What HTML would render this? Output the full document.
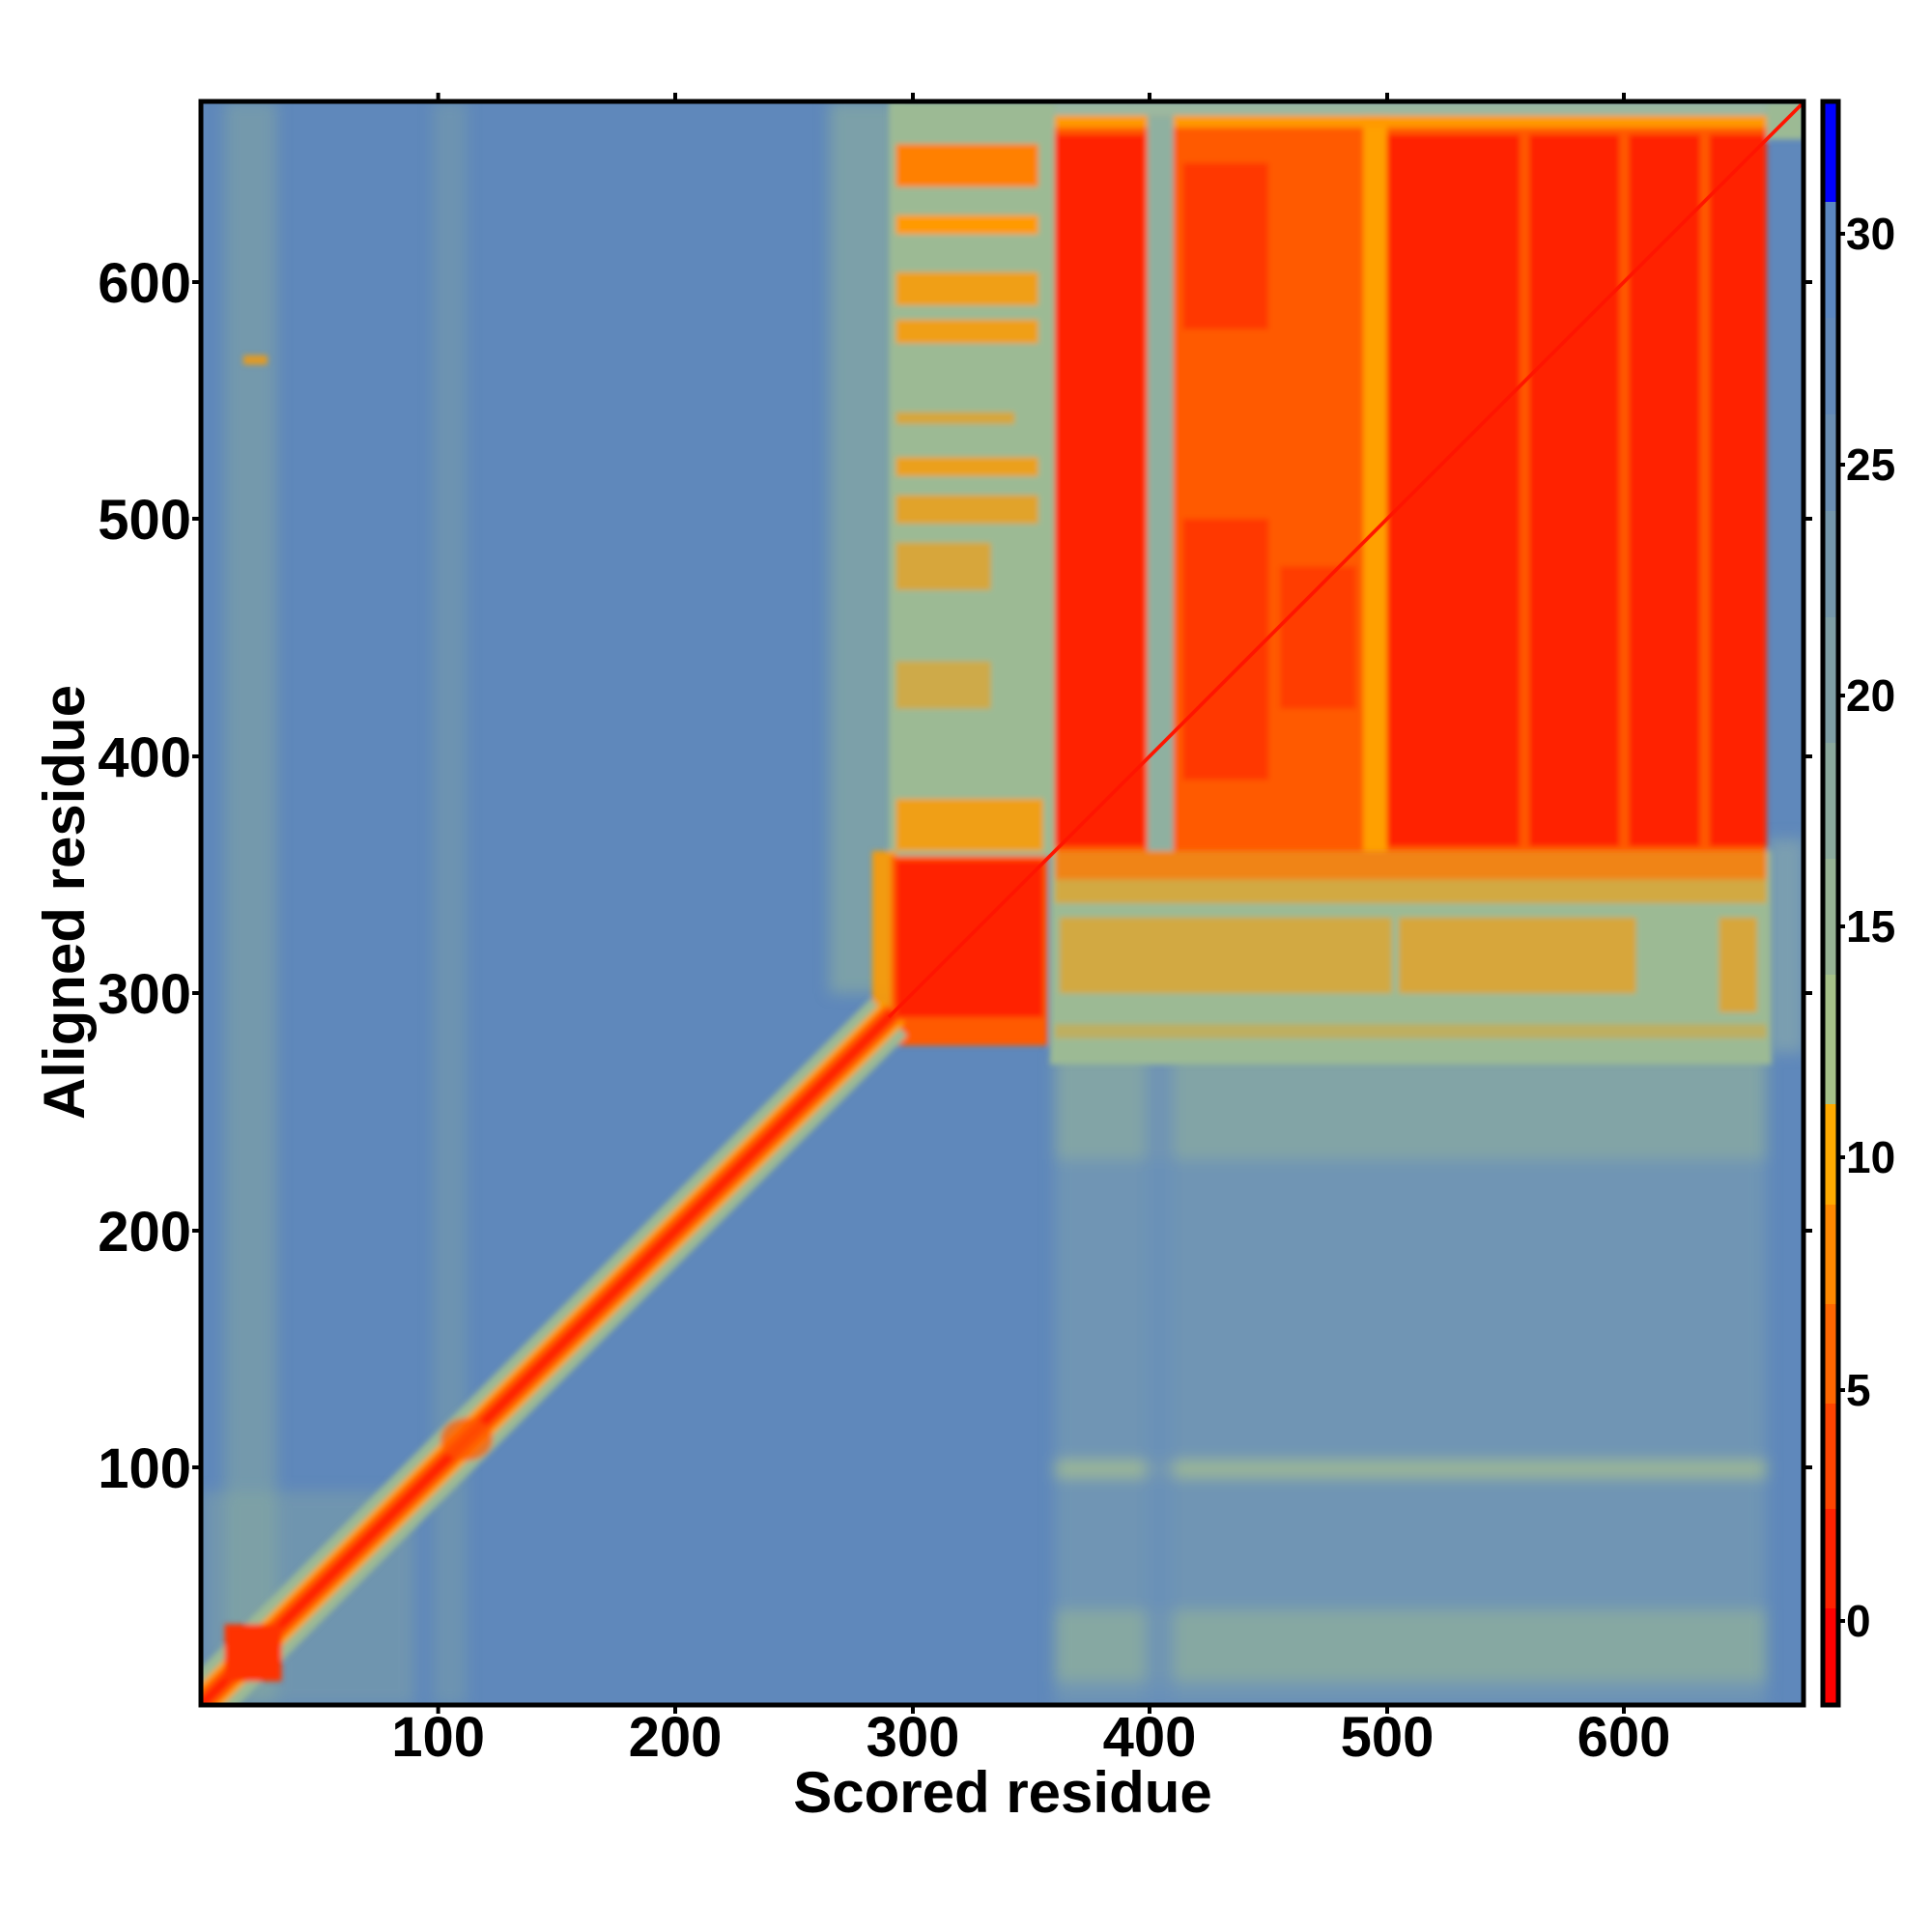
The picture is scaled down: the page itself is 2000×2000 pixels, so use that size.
<!DOCTYPE html>
<html><head><meta charset="utf-8"><style>
html,body{margin:0;padding:0;background:#fff;width:2000px;height:2000px;overflow:hidden}
svg text{font-family:"Liberation Sans",sans-serif;font-weight:bold;fill:#000}
</style></head><body>
<svg width="2000" height="2000" viewBox="0 0 2000 2000" xmlns="http://www.w3.org/2000/svg">
<defs>
<clipPath id="cp"><rect x="0" y="0" width="676" height="676"/></clipPath>
<filter id="bl" x="-5%" y="-5%" width="110%" height="110%"><feGaussianBlur stdDeviation="1.2"/></filter>
<filter id="bl2"><feGaussianBlur stdDeviation="3"/></filter>
</defs>
<g transform="matrix(2.4556,0,0,-2.4556,208,1765)" clip-path="url(#cp)">
 <rect x="0" y="0" width="676" height="676" fill="#5f88bb"/>
 <g filter="url(#bl2)">
  <rect x="10" y="0" width="22" height="676" fill="#8fb09c" opacity="0.45"/>
  <rect x="98" y="0" width="14" height="676" fill="#8fb09c" opacity="0.3"/>
  <rect x="265" y="300" width="30" height="376" fill="#90b09c" opacity="0.6"/>
  <rect x="360" y="0" width="300" height="275" fill="#7095b4"/>
  <rect x="360" y="10" width="300" height="30" fill="#86a8a2"/>
  <rect x="360" y="96" width="300" height="7" fill="#9cb894"/>
  <rect x="360" y="230" width="300" height="45" fill="#82a4a6"/>
  <rect x="398" y="0" width="12" height="676" fill="#6a90b8" opacity="0.8"/>
  <rect x="0" y="0" width="90" height="90" fill="#8fb09c" opacity="0.35"/>
  <rect x="660" y="275" width="16" height="90" fill="#7a9eb0"/>
 </g>
 <g filter="url(#bl)">
  <rect x="290" y="358" width="70" height="318" fill="#9cba94"/>
  <rect x="358" y="270" width="304" height="90" fill="#9cba94"/>
  <rect x="660" y="660" width="16" height="16" fill="#9cba94"/>
  <rect x="360" y="668" width="300" height="8" fill="#9cb8a0"/>
  <g fill="#ff9a00">
   <rect x="293" y="640" width="60" height="18" fill="#ff8000"/>
   <rect x="293" y="620" width="60" height="8"/>
   <rect x="293" y="590" width="60" height="14" opacity="0.85"/>
   <rect x="293" y="574" width="60" height="10" opacity="0.85"/>
   <rect x="293" y="540" width="50" height="5" opacity="0.6"/>
   <rect x="293" y="518" width="60" height="8" opacity="0.8"/>
   <rect x="293" y="498" width="60" height="12" opacity="0.7"/>
   <rect x="293" y="470" width="40" height="20" opacity="0.6"/>
   <rect x="293" y="420" width="40" height="20" opacity="0.5"/>
   <rect x="293" y="360" width="62" height="22" opacity="0.85"/>
   <rect x="283" y="290" width="10" height="70" opacity="0.9"/>
   <rect x="360" y="348" width="300" height="12" fill="#ff7a00" opacity="0.85"/>
   <rect x="360" y="338" width="300" height="10" opacity="0.55"/>
   <rect x="362" y="300" width="140" height="32" opacity="0.55"/>
   <rect x="505" y="300" width="100" height="32" opacity="0.6"/>
   <rect x="640" y="292" width="16" height="40" opacity="0.6"/>
   <rect x="360" y="281" width="300" height="6" opacity="0.35"/>
   <rect x="490" y="360" width="10" height="310"/>
   <rect x="360" y="662" width="300" height="8"/>
   <rect x="18" y="565" width="10" height="4" opacity="0.8"/>
  </g>
  <rect x="360" y="360" width="300" height="305" fill="#ff5a00"/>
  <rect x="490" y="360" width="10" height="305" fill="#ffa000"/>
  <rect x="399" y="360" width="11" height="310" fill="#8fb0a0"/>
  <g fill="#ff2200">
   <rect x="360" y="362" width="38" height="300"/>
   <rect x="414" y="390" width="36" height="110" opacity="0.6"/>
   <rect x="414" y="580" width="36" height="70" opacity="0.6"/>
   <rect x="500" y="362" width="56" height="300"/>
   <rect x="560" y="362" width="38" height="300"/>
   <rect x="602" y="362" width="30" height="300"/>
   <rect x="636" y="362" width="24" height="300"/>
   <rect x="455" y="420" width="32" height="60" opacity="0.5"/>
  </g>
  <rect x="291" y="278" width="66" height="80" fill="#ff5a00"/>
  <rect x="293" y="290" width="62" height="66" fill="#ff2200"/>
  <line x1="-5" y1="-5" x2="290" y2="290" stroke="#9cba94" stroke-width="22"/>
  <line x1="-5" y1="-5" x2="292" y2="292" stroke="#ffa000" stroke-width="13"/>
  <line x1="-5" y1="-5" x2="292" y2="292" stroke="#ff5a00" stroke-width="9"/>
  <line x1="-5" y1="-5" x2="292" y2="292" stroke="#ff2200" stroke-width="4.5"/>
  <ellipse cx="112" cy="112" rx="11" ry="9" fill="#ff5a00" opacity="0.7"/>
  <rect x="10" y="10" width="24" height="24" fill="#ff3300"/>
 </g>
 <line x1="290" y1="290" x2="676" y2="676" stroke="#ff1500" stroke-width="1.5"/>
</g>
<rect x="208" y="105" width="1659" height="1660" fill="none" stroke="#000" stroke-width="5"/>
<g stroke="#000" stroke-width="4">
 <line x1="453.6" y1="1765" x2="453.6" y2="1774"/><line x1="699" y1="1765" x2="699" y2="1774"/><line x1="945" y1="1765" x2="945" y2="1774"/><line x1="1190" y1="1765" x2="1190" y2="1774"/><line x1="1436" y1="1765" x2="1436" y2="1774"/><line x1="1681" y1="1765" x2="1681" y2="1774"/>
 <line x1="453.6" y1="105" x2="453.6" y2="96"/><line x1="699" y1="105" x2="699" y2="96"/><line x1="945" y1="105" x2="945" y2="96"/><line x1="1190" y1="105" x2="1190" y2="96"/><line x1="1436" y1="105" x2="1436" y2="96"/><line x1="1681" y1="105" x2="1681" y2="96"/>
 <line x1="208" y1="1519" x2="199" y2="1519"/><line x1="208" y1="1274" x2="199" y2="1274"/><line x1="208" y1="1028" x2="199" y2="1028"/><line x1="208" y1="783" x2="199" y2="783"/><line x1="208" y1="537" x2="199" y2="537"/><line x1="208" y1="292" x2="199" y2="292"/>
 <line x1="1867" y1="1519" x2="1876" y2="1519"/><line x1="1867" y1="1274" x2="1876" y2="1274"/><line x1="1867" y1="1028" x2="1876" y2="1028"/><line x1="1867" y1="783" x2="1876" y2="783"/><line x1="1867" y1="537" x2="1876" y2="537"/><line x1="1867" y1="292" x2="1876" y2="292"/>
</g>
<g font-size="58" text-anchor="middle">
 <text x="453.6" y="1818">100</text><text x="699" y="1818">200</text><text x="945" y="1818">300</text><text x="1190" y="1818">400</text><text x="1436" y="1818">500</text><text x="1681" y="1818">600</text>
</g>
<g font-size="58" text-anchor="end">
 <text x="198" y="1540">100</text><text x="198" y="1295">200</text><text x="198" y="1049">300</text><text x="198" y="804">400</text><text x="198" y="558">500</text><text x="198" y="313">600</text>
</g>
<text x="1038" y="1876" font-size="60" text-anchor="middle">Scored residue</text>
<text transform="translate(87,934) rotate(-90)" font-size="60" text-anchor="middle">Aligned residue</text>
<g>
 <rect x="1887" y="105" width="16" height="104" fill="#0000ff"/>
 <rect x="1887" y="209" width="16" height="120" fill="#5b87c0"/>
 <rect x="1887" y="329" width="16" height="100" fill="#6289b8"/>
 <rect x="1887" y="429" width="16" height="100" fill="#6a8eb2"/>
 <rect x="1887" y="529" width="16" height="110" fill="#7496aa"/>
 <rect x="1887" y="639" width="16" height="130" fill="#7e9ea4"/>
 <rect x="1887" y="769" width="16" height="120" fill="#8aa89c"/>
 <rect x="1887" y="889" width="16" height="120" fill="#96b294"/>
 <rect x="1887" y="1009" width="16" height="134" fill="#a6c088"/>
 <rect x="1887" y="1143" width="16" height="104" fill="#ffaa00"/>
 <rect x="1887" y="1247" width="16" height="103" fill="#ff8800"/>
 <rect x="1887" y="1350" width="16" height="103" fill="#ff6600"/>
 <rect x="1887" y="1453" width="16" height="109" fill="#ff4400"/>
 <rect x="1887" y="1562" width="16" height="103" fill="#ff2200"/>
 <rect x="1887" y="1665" width="16" height="100" fill="#ff0000"/>
 <rect x="1887" y="105" width="16" height="1660" fill="none" stroke="#000" stroke-width="5"/>
</g>
<g stroke="#000" stroke-width="4">
 <line x1="1903" y1="1678" x2="1910" y2="1678"/><line x1="1903" y1="1439" x2="1910" y2="1439"/><line x1="1903" y1="1198" x2="1910" y2="1198"/><line x1="1903" y1="959" x2="1910" y2="959"/><line x1="1903" y1="720" x2="1910" y2="720"/><line x1="1903" y1="481" x2="1910" y2="481"/><line x1="1903" y1="242" x2="1910" y2="242"/>
</g>
<g font-size="46">
 <text x="1911" y="1694">0</text><text x="1911" y="1455">5</text><text x="1911" y="1214">10</text><text x="1911" y="975">15</text><text x="1911" y="736">20</text><text x="1911" y="497">25</text><text x="1911" y="258">30</text>
</g>
</svg>
</body></html>
